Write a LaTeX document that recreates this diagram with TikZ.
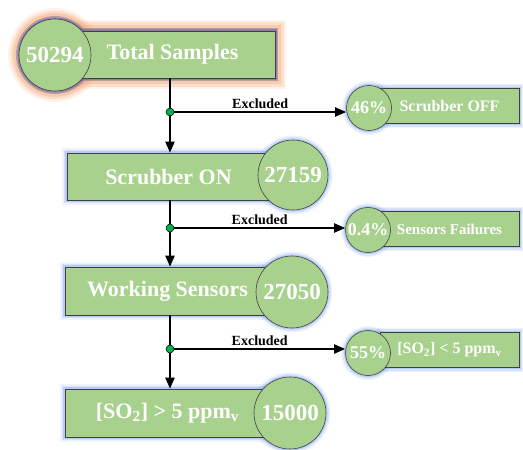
\documentclass[tikz,border=0pt]{standalone}
\usepackage{fontspec}
\setmainfont{Liberation Serif}
\usetikzlibrary{arrows.meta,positioning,calc,backgrounds}
\definecolor{boxgreen}{RGB}{169,209,142}
\definecolor{glowblue}{RGB}{120,160,240}
\definecolor{glowpeach}{RGB}{246,170,120}
\definecolor{glowpurple}{RGB}{120,110,165}
\definecolor{dotgreen}{RGB}{0,176,80}
\tikzset{
  stagebox/.style={draw=black!75, fill=boxgreen, line width=0.6pt, inner sep=0pt,
    minimum width=205pt, minimum height=47pt, text=white,
    font=\bfseries\fontsize{22}{26}\selectfont},
  countcirc/.style={circle, draw=black!75, fill=boxgreen, line width=0.6pt, inner sep=0pt,
    minimum size=72pt, text=white, font=\bfseries\fontsize{23}{27}\selectfont},
  exclbox/.style={draw=black!75, fill=boxgreen, line width=0.6pt, inner sep=0pt,
    minimum width=139pt, minimum height=35pt, text=white,
    font=\bfseries\fontsize{15}{18}\selectfont},
  pctcirc/.style={circle, draw=black!75, fill=boxgreen, line width=0.6pt, inner sep=0pt,
    minimum size=45pt, text=white, font=\bfseries\fontsize{18}{21}\selectfont},
  junction/.style={circle, draw=black, fill=dotgreen, line width=0.5pt, inner sep=0pt,
    minimum size=8pt},
  flow/.style={draw=black, line width=2pt},
  tip/.style={-{Triangle[length=11pt, width=9pt]}},
  exlabel/.style={font=\bfseries\fontsize{14}{16}\selectfont, inner sep=2pt}
}
\begin{document}
\begin{tikzpicture}[x=1pt, y=-1pt]
\useasboundingbox (0,0) rectangle (523,450);

% main stages
\node[stagebox] (total) at (172.5,54.5) {Total Samples};
\node[countcirc] (totalnum) at (55,55) {50294};
\node[stagebox, minimum width=203pt] (scrubon) at (168.5,176.5) {Scrubber ON};
\node[countcirc, minimum size=70pt] (scrubonnum) at (293,175) {27159};
\node[stagebox, minimum height=48pt] (working) at (167.5,291) {Working Sensors};
\node[countcirc] (workingnum) at (292,292) {27050};
\node[stagebox, minimum height=48pt] (high) at (167.5,413) {[SO\textsubscript{2}] > 5 ppm\textsubscript{v}};
\node[countcirc] (highnum) at (290,413) {15000};

% excluded
\node[exclbox, font=\bfseries\fontsize{16}{19}\selectfont] (off) at (449.5,106) {Scrubber OFF};
\node[pctcirc] (offpct) at (369,108) {46\%};
\node[exclbox] (fail) at (449.5,229) {Sensors Failures};
\node[pctcirc] (failpct) at (368,230) {0.4\%};
\node[exclbox, font=\bfseries\fontsize{16}{19}\selectfont] (low) at (449.5,350) {[SO\textsubscript{2}] < 5 ppm\textsubscript{v}};
\node[pctcirc] (lowpct) at (368,353) {55\%};

% junctions
\node[junction] (j1) at (170,112) {};
\node[junction] (j2) at (170,228) {};
\node[junction] (j3) at (170,349) {};

% connectors
\draw[flow] (total.south -| j1) -- (j1);
\draw[flow,tip] (j1) -- (scrubon.north -| j1);
\draw[flow,tip] (j1) -- (j1 -| offpct.west) node[exlabel, midway, above] {Excluded};
\draw[flow] (scrubon.south -| j2) -- (j2);
\draw[flow,tip] (j2) -- (working.north -| j2);
\draw[flow,tip] (j2) -- (j2 -| failpct.west) node[exlabel, midway, above] {Excluded};
\draw[flow] (working.south -| j3) -- (j3);
\draw[flow,tip] (j3) -- (high.north -| j3);
\draw[flow,tip] (j3) -- (j3 -| lowpct.west) node[exlabel, midway, above] {Excluded};

% glow
\begin{scope}[on background layer]
  \foreach \w/\o in {22/0.15, 17/0.25, 12/0.4} {
    \draw[glowpeach, line width=\w pt, opacity=\o] (total.north west) rectangle (total.south east);
    \draw[glowpeach, line width=\w pt, opacity=\o] (totalnum) circle[radius=36];
  }
  \foreach \w/\o in {6/0.5, 3/0.6} {
    \draw[glowpurple, line width=\w pt, opacity=\o] (total.north west) rectangle (total.south east);
    \draw[glowpurple, line width=\w pt, opacity=\o] (totalnum) circle[radius=36];
  }
  \foreach \n in {scrubon, working, high, off, fail, low}
    \foreach \w/\o in {9/0.12, 6/0.2, 3/0.35}
      \draw[glowblue, line width=\w pt, opacity=\o] (\n.north west) rectangle (\n.south east);
  \foreach \n/\r in {scrubonnum/35, workingnum/36, highnum/36, offpct/22.5, failpct/22.5, lowpct/22.5}
    \foreach \w/\o in {9/0.12, 6/0.2, 3/0.35}
      \draw[glowblue, line width=\w pt, opacity=\o] (\n) circle[radius=\r];
\end{scope}
\end{tikzpicture}
\end{document}
